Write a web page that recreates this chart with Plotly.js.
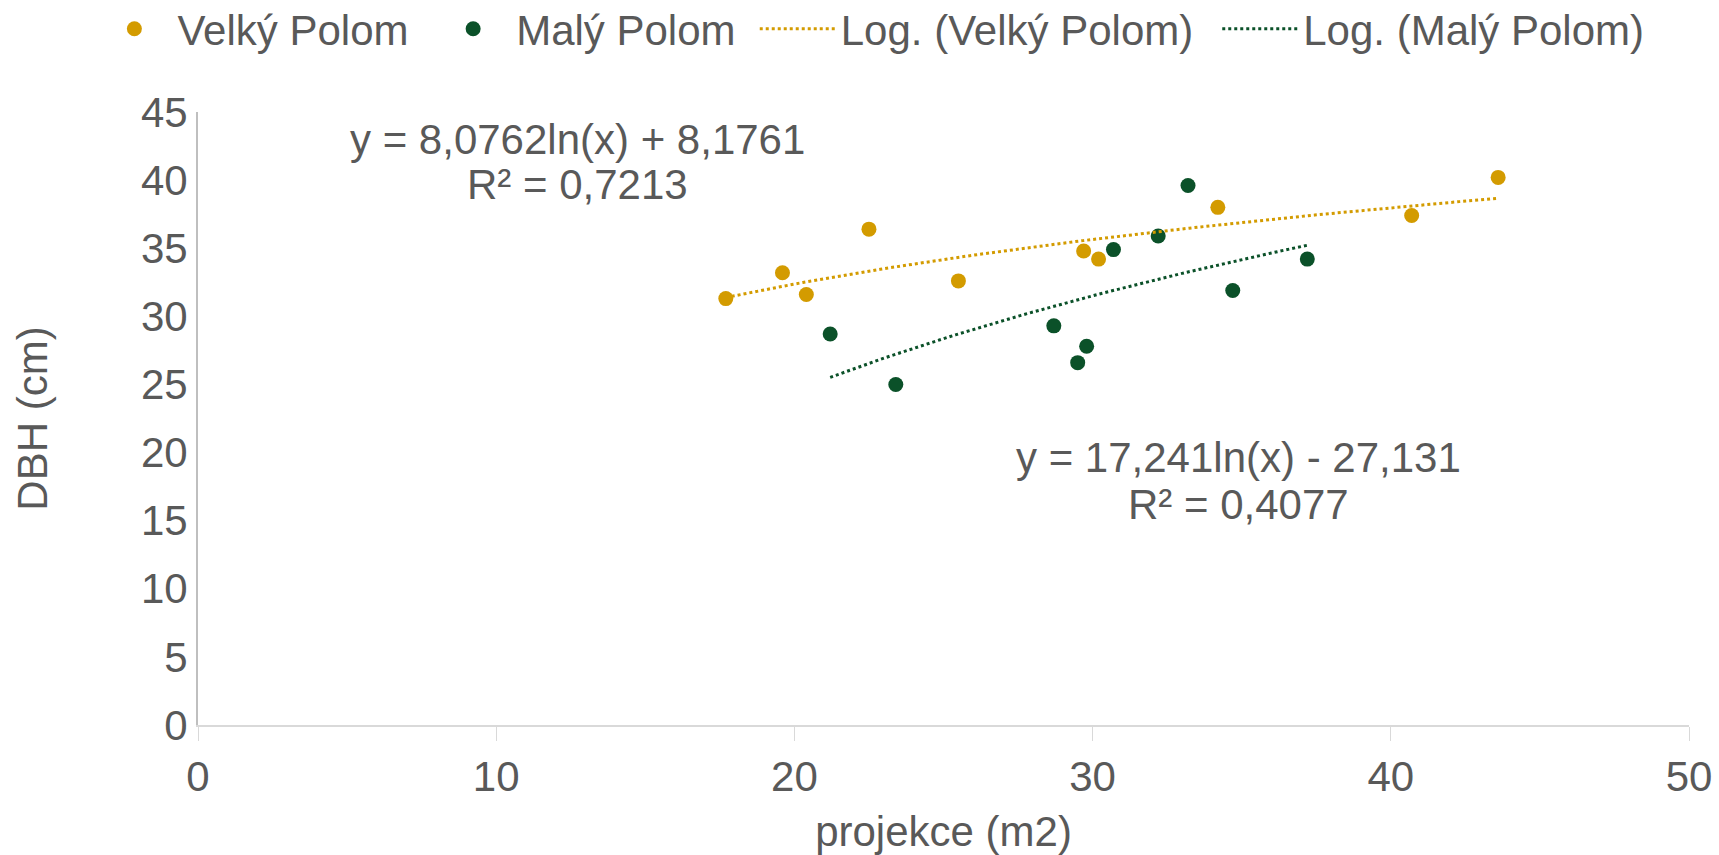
<!DOCTYPE html>
<html>
<head>
<meta charset="utf-8">
<script src="https://cdn.plot.ly/plotly-3.0.1.min.js"></script>
<style>html,body{margin:0;padding:0;background:#fff;}#chart{width:1719px;height:855px;}</style>
</head>
<body>
<div id="chart"></div>
<script>
// Velký Polom
const velkyX = [17.7, 19.6, 20.4, 22.5, 25.5, 29.7, 30.2, 34.2, 40.7, 43.6];
const velkyY = [31.3, 33.2, 31.6, 36.4, 32.6, 34.8, 34.2, 38.0, 37.4, 40.2];
// Malý Polom
const malyX = [21.2, 23.4, 28.7, 29.8, 29.5, 30.7, 32.2, 33.2, 34.7, 37.2];
const malyY = [28.7, 25.0, 29.3, 27.8, 26.6, 34.9, 35.9, 39.6, 31.9, 34.2];
// Logarithmic trendline coefficients (y = a*ln(x) + b)
const velkyTrend = {a: 8.0762, b: 8.1761};
const malyTrend = {a: 17.241, b: -27.131};
const seriesNames = ["Velký Polom", "Malý Polom", "Log. (Velký Polom)", "Log. (Malý Polom)"];
const eqVelky = ["y = 8,0762ln(x) + 8,1761", "R² = 0,7213"];
const eqMaly = ["y = 17,241ln(x) - 27,131", "R² = 0,4077"];
const xTicks = [0, 10, 20, 30, 40, 50];
const yTicks = [0, 5, 10, 15, 20, 25, 30, 35, 40, 45];

const GOLD = "#D39B00";
const GREEN = "#0B5129";
const TEXT = "#595959";
const FONT = "'Liberation Sans', Arial, sans-serif";

function trend(xs, c) {
  const lo = Math.min(...xs), hi = Math.max(...xs);
  const tx = [], ty = [];
  const n = 80;
  for (let i = 0; i <= n; i++) {
    const x = lo + (hi - lo) * i / n;
    tx.push(x);
    ty.push(c.a * Math.log(x) + c.b);
  }
  return {x: tx, y: ty};
}
const tV = trend(velkyX, velkyTrend);
const tM = trend(malyX, malyTrend);

const data = [
  {x: velkyX, y: velkyY, name: seriesNames[0], type: "scatter", mode: "markers",
   marker: {color: GOLD, size: 15}, legend: "legend"},
  {x: malyX, y: malyY, name: seriesNames[1], type: "scatter", mode: "markers",
   marker: {color: GREEN, size: 15}, legend: "legend2"},
  {x: tV.x, y: tV.y, name: seriesNames[2], type: "scatter", mode: "lines",
   line: {color: GOLD, width: 3, dash: "dot"}, legend: "legend3"},
  {x: tM.x, y: tM.y, name: seriesNames[3], type: "scatter", mode: "lines",
   line: {color: GREEN, width: 3, dash: "dot"}, legend: "legend4"}
];

function ann(text, x, y) {
  return {text: text, x: x, y: y, xref: "x", yref: "y", showarrow: false,
          font: {family: FONT, size: 42, color: TEXT}, align: "center"};
}
function leg(x) {
  return {orientation: "h", x: x, xanchor: "left", y: 1.1354, yanchor: "middle",
          font: {family: FONT, size: 42, color: TEXT}, itemwidth: 76, bgcolor: "rgba(0,0,0,0)"};
}

const layout = {
  width: 1719, height: 855,
  margin: {l: 198, r: 30, t: 112, b: 130, autoexpand: false},
  paper_bgcolor: "#fff", plot_bgcolor: "#fff",
  font: {family: FONT, size: 42, color: TEXT},
  showlegend: true,
  legend: leg(-0.0715),
  legend2: leg(0.1557),
  legend3: leg(0.3734),
  legend4: leg(0.6836),
  xaxis: {range: [0, 50], tickvals: xTicks, ticktext: xTicks.map(String),
          showgrid: false, zeroline: false, showline: true, linecolor: "#D9D9D9", linewidth: 2,
          ticks: "outside", ticklen: 14, tickcolor: "#D9D9D9", tickwidth: 1,
          tickfont: {family: FONT, size: 42, color: TEXT}, ticklabelstandoff: 0,
          title: {text: "projekce (m2)", font: {family: FONT, size: 42, color: TEXT}, standoff: 19}},
  yaxis: {range: [0, 45], tickvals: yTicks, ticktext: yTicks.map(String),
          showgrid: false, zeroline: false, showline: true, linecolor: "#BFBFBF", linewidth: 2,
          ticks: "", tickfont: {family: FONT, size: 42, color: TEXT}, ticklabelstandoff: 0,
          title: {text: "DBH (cm)", font: {family: FONT, size: 42, color: TEXT}, standoff: 80}},
  annotations: [
    ann(eqVelky[0], 12.72, 43.0),
    ann(eqVelky[1], 12.72, 39.7),
    ann(eqMaly[0], 34.89, 19.65),
    ann(eqMaly[1], 34.89, 16.18)
  ]
};

Plotly.newPlot("chart", data, layout, {staticPlot: true, displayModeBar: false});
</script>
</body>
</html>
